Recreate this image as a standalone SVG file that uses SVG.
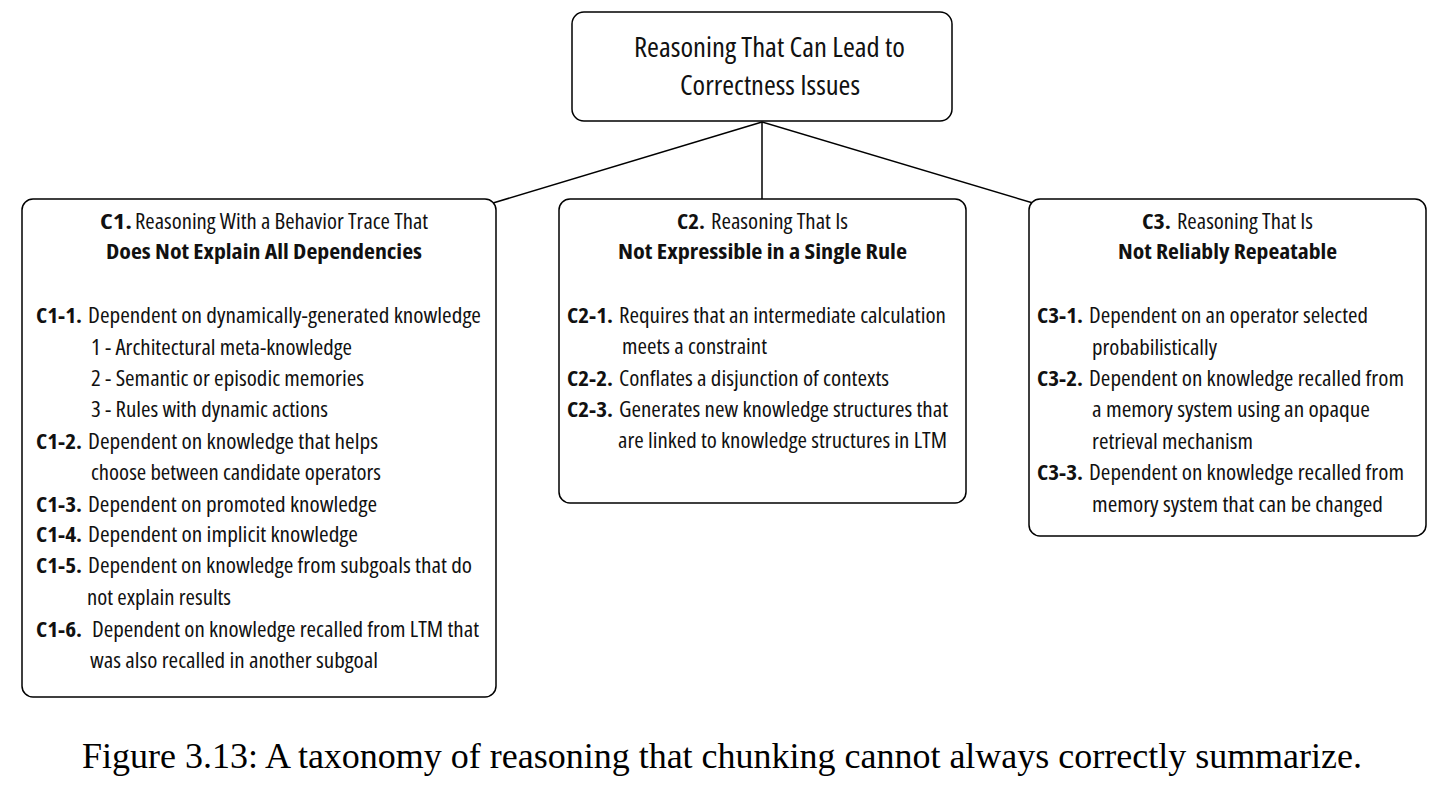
<svg xmlns="http://www.w3.org/2000/svg" width="1435" height="808" viewBox="0 0 1435 808">
<style>
.box{fill:#fff;stroke:#000;stroke-width:1.5}
.t{font-family:"Open Sans","DejaVu Sans",sans-serif;font-stretch:75%;font-size:21px;fill:#111}
.b{font-weight:bold}
.top{font-size:27px}
.cap{font-family:"Liberation Serif","Times New Roman",serif;font-size:35px;fill:#000}
.con{stroke:#000;stroke-width:1.5;fill:none}
</style>
<rect width="1435" height="808" fill="#fff"/>
<g id="connectors">
<line class="con" x1="762" y1="122" x2="493" y2="203"/>
<line class="con" x1="762" y1="122" x2="762" y2="199"/>
<line class="con" x1="762" y1="122" x2="1033" y2="203"/>
</g>
<g id="root">
<rect class="box" x="572" y="12" width="380" height="109" rx="12"/>
<text class="t top" x="634" y="57" textLength="271" lengthAdjust="spacingAndGlyphs">Reasoning That Can Lead to</text>
<text class="t top" x="680" y="95" textLength="180" lengthAdjust="spacingAndGlyphs">Correctness Issues</text>
</g>
<g id="c1">
<rect class="box" x="22" y="199" width="474" height="498" rx="11"/>
<text class="t b" x="100" y="229" textLength="32" lengthAdjust="spacingAndGlyphs">C1.</text>
<text class="t" x="135" y="229" textLength="293" lengthAdjust="spacingAndGlyphs">Reasoning With a Behavior Trace That</text>
<text class="t b" x="106" y="259" textLength="316" lengthAdjust="spacingAndGlyphs">Does Not Explain All Dependencies</text>
<text class="t b" x="36" y="323" textLength="46" lengthAdjust="spacingAndGlyphs">C1-1.</text>
<text class="t" x="88" y="323" textLength="393" lengthAdjust="spacingAndGlyphs">Dependent on dynamically-generated knowledge</text>
<text class="t" x="91" y="355" textLength="261" lengthAdjust="spacingAndGlyphs">1 - Architectural meta-knowledge</text>
<text class="t" x="91" y="386" textLength="273" lengthAdjust="spacingAndGlyphs">2 - Semantic or episodic memories</text>
<text class="t" x="91" y="417" textLength="237" lengthAdjust="spacingAndGlyphs">3 - Rules with dynamic actions</text>
<text class="t b" x="36" y="449" textLength="46" lengthAdjust="spacingAndGlyphs">C1-2.</text>
<text class="t" x="88" y="449" textLength="290" lengthAdjust="spacingAndGlyphs">Dependent on knowledge that helps</text>
<text class="t" x="91" y="480" textLength="290" lengthAdjust="spacingAndGlyphs">choose between candidate operators</text>
<text class="t b" x="36" y="512" textLength="46" lengthAdjust="spacingAndGlyphs">C1-3.</text>
<text class="t" x="88" y="512" textLength="289" lengthAdjust="spacingAndGlyphs">Dependent on promoted knowledge</text>
<text class="t b" x="36" y="542" textLength="46" lengthAdjust="spacingAndGlyphs">C1-4.</text>
<text class="t" x="88" y="542" textLength="270" lengthAdjust="spacingAndGlyphs">Dependent on implicit knowledge</text>
<text class="t b" x="36" y="573" textLength="46" lengthAdjust="spacingAndGlyphs">C1-5.</text>
<text class="t" x="88" y="573" textLength="384" lengthAdjust="spacingAndGlyphs">Dependent on knowledge from subgoals that do</text>
<text class="t" x="87" y="605" textLength="144" lengthAdjust="spacingAndGlyphs">not explain results</text>
<text class="t b" x="36" y="637" textLength="46" lengthAdjust="spacingAndGlyphs">C1-6.</text>
<text class="t" x="92" y="637" textLength="387" lengthAdjust="spacingAndGlyphs">Dependent on knowledge recalled from LTM that</text>
<text class="t" x="90" y="668" textLength="288" lengthAdjust="spacingAndGlyphs">was also recalled in another subgoal</text>
</g>
<g id="c2">
<rect class="box" x="559" y="199" width="407" height="304" rx="11"/>
<text class="t b" x="677" y="229" textLength="28" lengthAdjust="spacingAndGlyphs">C2.</text>
<text class="t" x="711" y="229" textLength="137" lengthAdjust="spacingAndGlyphs">Reasoning That Is</text>
<text class="t b" x="618" y="259" textLength="289" lengthAdjust="spacingAndGlyphs">Not Expressible in a Single Rule</text>
<text class="t b" x="567" y="323" textLength="46" lengthAdjust="spacingAndGlyphs">C2-1.</text>
<text class="t" x="619" y="323" textLength="327" lengthAdjust="spacingAndGlyphs">Requires that an intermediate calculation</text>
<text class="t" x="622" y="354" textLength="145" lengthAdjust="spacingAndGlyphs">meets a constraint</text>
<text class="t b" x="567" y="386" textLength="46" lengthAdjust="spacingAndGlyphs">C2-2.</text>
<text class="t" x="619" y="386" textLength="270" lengthAdjust="spacingAndGlyphs">Conflates a disjunction of contexts</text>
<text class="t b" x="567" y="417" textLength="46" lengthAdjust="spacingAndGlyphs">C2-3.</text>
<text class="t" x="619" y="417" textLength="329" lengthAdjust="spacingAndGlyphs">Generates new knowledge structures that</text>
<text class="t" x="618" y="448" textLength="329" lengthAdjust="spacingAndGlyphs">are linked to knowledge structures in LTM</text>
</g>
<g id="c3">
<rect class="box" x="1029" y="199" width="397" height="337" rx="11"/>
<text class="t b" x="1142" y="229" textLength="29" lengthAdjust="spacingAndGlyphs">C3.</text>
<text class="t" x="1177" y="229" textLength="136" lengthAdjust="spacingAndGlyphs">Reasoning That Is</text>
<text class="t b" x="1118" y="259" textLength="219" lengthAdjust="spacingAndGlyphs">Not Reliably Repeatable</text>
<text class="t b" x="1037" y="323" textLength="46" lengthAdjust="spacingAndGlyphs">C3-1.</text>
<text class="t" x="1089" y="323" textLength="279" lengthAdjust="spacingAndGlyphs">Dependent on an operator selected</text>
<text class="t" x="1092" y="355" textLength="125" lengthAdjust="spacingAndGlyphs">probabilistically</text>
<text class="t b" x="1037" y="386" textLength="46" lengthAdjust="spacingAndGlyphs">C3-2.</text>
<text class="t" x="1089" y="386" textLength="315" lengthAdjust="spacingAndGlyphs">Dependent on knowledge recalled from</text>
<text class="t" x="1092" y="417" textLength="278" lengthAdjust="spacingAndGlyphs">a memory system using an opaque</text>
<text class="t" x="1092" y="449" textLength="161" lengthAdjust="spacingAndGlyphs">retrieval mechanism</text>
<text class="t b" x="1037" y="480" textLength="46" lengthAdjust="spacingAndGlyphs">C3-3.</text>
<text class="t" x="1089" y="480" textLength="315" lengthAdjust="spacingAndGlyphs">Dependent on knowledge recalled from</text>
<text class="t" x="1092" y="512" textLength="291" lengthAdjust="spacingAndGlyphs">memory system that can be changed</text>
</g>
<text class="cap" x="82" y="768" textLength="1280" lengthAdjust="spacingAndGlyphs">Figure 3.13: A taxonomy of reasoning that chunking cannot always correctly summarize.</text>
</svg>
